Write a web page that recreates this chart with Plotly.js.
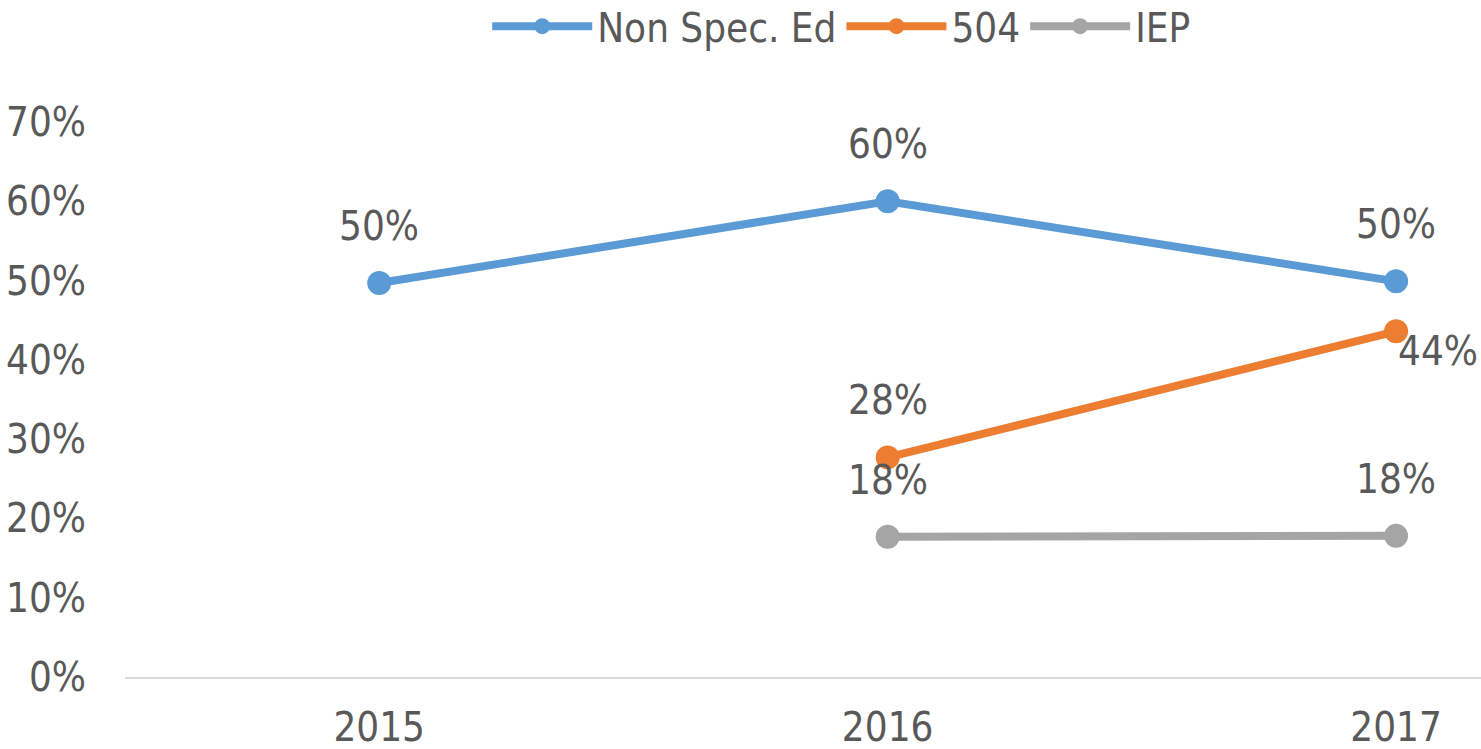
<!DOCTYPE html>
<html>
<head>
<meta charset="utf-8">
<script src="https://cdn.plot.ly/plotly-3.0.1.min.js"></script>
<style>html,body{margin:0;padding:0;background:#fff;}#chart{width:1481px;height:749px;}</style>
</head>
<body>
<div id="chart"></div>
<script>
const years = ['2015', '2016', '2017'];
const nonSpecEd = [0.497, 0.600, 0.499];
const sec504 = [null, 0.277, 0.436];
const iep = [null, 0.177, 0.178];
const seriesNames = ['Non Spec. Ed', '504', 'IEP'];
const seriesColors = ['#5B9BD5', '#ED7D31', '#A5A5A5'];
const yTicks = [0, 0.1, 0.2, 0.3, 0.4, 0.5, 0.6, 0.7];

const FONT = '"DejaVu Sans Condensed", "Liberation Sans", sans-serif';
const FS = 40;
const TXT = '#595959';
const allSeries = [nonSpecEd, sec504, iep];

const traces = allSeries.map((vals, i) => ({
  type: 'scatter',
  mode: 'lines+markers',
  name: seriesNames[i],
  x: years,
  y: vals,
  line: {color: seriesColors[i], width: 8},
  marker: {color: seriesColors[i], size: 24},
  connectgaps: false,
  cliponaxis: false,
  hoverinfo: 'none'
}));

const annotations = [];
allSeries.forEach((vals, i) => {
  vals.forEach((v, j) => {
    if (v === null) return;
    const right = (i === 1 && j === 2);
    annotations.push({
      x: j, y: v, xref: 'x', yref: 'y',
      text: Math.round(v * 100) + '%',
      showarrow: false,
      font: {family: FONT, size: FS, color: TXT},
      xanchor: right ? 'left' : 'center',
      yanchor: 'middle',
      xshift: 0,
      yshift: right ? -20 : 57
    });
  });
});

const layout = {
  width: 1481, height: 749,
  margin: {l: 125, r: 0, t: 122, b: 72, pad: 0},
  paper_bgcolor: '#ffffff', plot_bgcolor: '#ffffff',
  font: {family: FONT, size: FS, color: TXT},
  showlegend: true,
  legend: {
    orientation: 'h', xref: 'container', x: 0.568, xanchor: 'center',
    yref: 'container', y: 0.965, yanchor: 'middle',
    font: {family: FONT, size: FS, color: TXT},
    itemwidth: 100, tracegroupgap: 0,
    bgcolor: 'rgba(0,0,0,0)'
  },
  xaxis: {
    type: 'category', range: [-0.5, 2.167],
    showgrid: false, zeroline: false,
    showline: true, linecolor: '#D9D9D9', linewidth: 2,
    ticks: '', ticklabelstandoff: 14,
    tickfont: {family: FONT, size: FS, color: TXT},
    fixedrange: true
  },
  yaxis: {
    range: [0, 0.7], tickvals: yTicks, tickformat: '.0%',
    showgrid: false, zeroline: false, showline: false,
    ticks: '', ticklabelstandoff: 38,
    tickfont: {family: FONT, size: FS, color: TXT},
    fixedrange: true
  },
  annotations: annotations
};

Plotly.newPlot('chart', traces, layout, {displayModeBar: false, staticPlot: true});
</script>
</body>
</html>
